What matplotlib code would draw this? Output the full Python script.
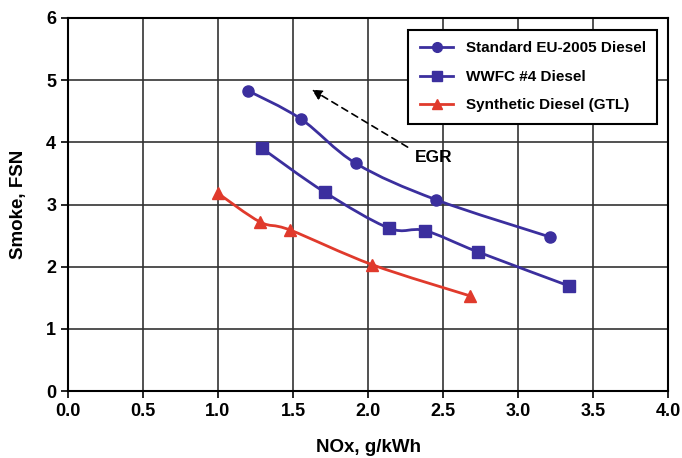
import numpy as np
import matplotlib
matplotlib.use("Agg")
import matplotlib.pyplot as plt
from matplotlib.path import Path
from matplotlib.patches import PathPatch

plt.rcParams['font.family'] = ['Liberation Sans', 'DejaVu Sans']
plt.rcParams['font.weight'] = 'bold'

# dados
eu_x = [1.20, 1.55, 1.92, 2.45, 3.21]
eu_y = [4.83, 4.38, 3.66, 3.08, 2.48]

wwfc_x = [1.29, 1.71, 2.14, 2.38, 2.73, 3.34]
wwfc_y = [3.91, 3.20, 2.62, 2.58, 2.24, 1.69]

gtl_x = [1.00, 1.28, 1.48, 2.03, 2.68]
gtl_y = [3.18, 2.72, 2.59, 2.03, 1.53]

labels = ['Standard EU-2005 Diesel', 'WWFC #4 Diesel', 'Synthetic Diesel (GTL)']
xticks = [0.0, 0.5, 1.0, 1.5, 2.0, 2.5, 3.0, 3.5, 4.0]
yticks = [0, 1, 2, 3, 4, 5, 6]

blue = '#3b2f9e'
red = '#e03a2c'


def curva_suave(ax, xs, ys, cor):
    # curva tipo Excel (Catmull-Rom convertida em Bezier)
    p = np.column_stack([xs, ys])
    verts = [p[0]]
    codes = [Path.MOVETO]
    n = len(p)
    for i in range(n - 1):
        p0 = p[i - 1] if i > 0 else p[i]
        p1 = p[i]
        p2 = p[i + 1]
        p3 = p[i + 2] if i + 2 < n else p[i + 1]
        c1 = p1 + (p2 - p0) / 6.0
        c2 = p2 - (p3 - p1) / 6.0
        verts += [c1, c2, p2]
        codes += [Path.CURVE4] * 3
    ax.add_patch(PathPatch(Path(verts, codes), fill=False, edgecolor=cor, lw=2, zorder=3))


fig = plt.figure(figsize=(6.82, 4.58), dpi=100)
ax = fig.add_axes([68 / 682, 1 - 391 / 458, 600 / 682, 373 / 458])

curva_suave(ax, eu_x, eu_y, blue)
curva_suave(ax, wwfc_x, wwfc_y, blue)
curva_suave(ax, gtl_x, gtl_y, red)

ax.plot(eu_x, eu_y, ls='none', marker='o', ms=8, color=blue, zorder=4)
ax.plot(wwfc_x, wwfc_y, ls='none', marker='s', ms=8, color=blue, zorder=4)
ax.plot(gtl_x, gtl_y, ls='none', marker='^', ms=8, color=red, zorder=4)

# entradas da legenda
h1, = ax.plot([], [], color=blue, lw=2, marker='o', ms=7)
h2, = ax.plot([], [], color=blue, lw=2, marker='s', ms=7)
h3, = ax.plot([], [], color=red, lw=2, marker='^', ms=7)
leg = ax.legend([h1, h2, h3], labels, loc='upper right', bbox_to_anchor=(0.982, 0.968),
                borderaxespad=0, fancybox=False, framealpha=1, edgecolor='black',
                fontsize=11, handlelength=2.2, labelspacing=0.95, borderpad=0.75)
leg.get_frame().set_linewidth(1.5)
leg.set_zorder(5)

# seta EGR
ax.annotate('', xy=(1.61, 4.87), xytext=(2.28, 3.90),
            arrowprops=dict(arrowstyle='-|>', ls=(0, (4, 3)), color='black', lw=1.2,
                            mutation_scale=15))
ax.text(2.31, 3.76, 'EGR', fontsize=12.5, fontweight='bold', va='center', ha='left')

ax.set_xlim(0, 4)
ax.set_ylim(0, 6)
ax.set_xticks(xticks)
ax.set_yticks(yticks)
ax.set_xticklabels([f'{v:.1f}' for v in xticks], fontsize=13, fontweight='bold')
ax.set_yticklabels([str(v) for v in yticks], fontsize=13, fontweight='bold')
ax.tick_params(axis='both', direction='out', length=5, width=1.2, color='black')
ax.grid(True, color='#333333', lw=1.2)
ax.set_axisbelow(True)
for s in ax.spines.values():
    s.set_linewidth(1.5)
    s.set_color('black')

ax.set_xlabel('NOx, g/kWh', fontsize=13.5, fontweight='bold', labelpad=14)
ax.set_ylabel('Smoke, FSN', fontsize=13.5, fontweight='bold', labelpad=14)

fig.savefig('out.png', dpi=100)
